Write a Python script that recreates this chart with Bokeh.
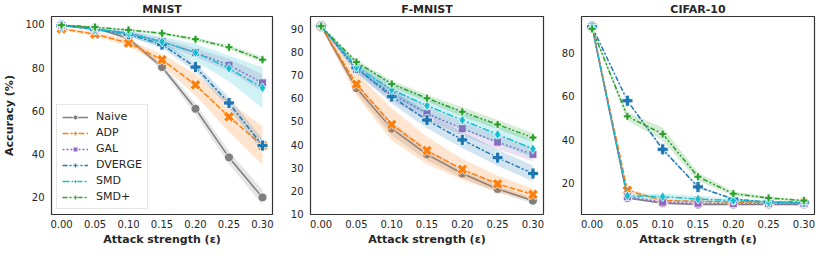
from bokeh.plotting import figure
from bokeh.layouts import row
from bokeh.models import Range1d, FixedTicker, Legend, LegendItem, Title
from bokeh.embed import file_html
from bokeh.resources import INLINE

eps = [0.00, 0.05, 0.10, 0.15, 0.20, 0.25, 0.30]
x_ticks = [0.00, 0.05, 0.10, 0.15, 0.20, 0.25, 0.30]
x_tick_labels = ["0.00", "0.05", "0.10", "0.15", "0.20", "0.25", "0.30"]
methods = ["Naive", "ADP", "GAL", "DVERGE", "SMD", "SMD+"]
titles = ["MNIST", "F-MNIST", "CIFAR-10"]

# MNIST
mnist_naive = [99.6, 98.5, 93.5, 80.3, 61.0, 38.5, 20.0]
mnist_naive_err = [0.3, 0.5, 1.0, 1.5, 2.5, 3.0, 3.5]
mnist_adp = [98.0, 95.6, 91.4, 83.7, 72.1, 57.3, 44.0]
mnist_adp_err = [0.5, 1.0, 1.5, 2.5, 5.0, 7.0, 9.0]
mnist_gal = [99.5, 98.0, 96.0, 92.0, 87.0, 81.2, 73.0]
mnist_gal_err = [0.2, 0.5, 1.0, 1.5, 2.0, 3.0, 4.0]
mnist_dverge = [99.5, 97.8, 95.5, 90.7, 80.3, 63.7, 44.0]
mnist_dverge_err = [0.2, 0.5, 1.0, 1.5, 2.0, 2.5, 3.0]
mnist_smd = [99.5, 97.8, 96.0, 92.0, 87.0, 79.7, 70.7]
mnist_smd_err = [0.3, 0.6, 1.5, 2.5, 4.0, 6.0, 9.5]
mnist_smdp = [99.7, 98.8, 97.5, 95.9, 93.2, 89.5, 83.7]
mnist_smdp_err = [0.2, 0.3, 0.4, 0.6, 0.8, 1.0, 1.3]

# F-MNIST
fmnist_naive = [91.4, 64.5, 46.9, 35.7, 27.4, 20.7, 15.6]
fmnist_naive_err = [0.3, 2.0, 3.0, 2.5, 2.0, 1.5, 1.2]
fmnist_adp = [91.4, 66.2, 48.7, 37.4, 29.2, 22.9, 18.3]
fmnist_adp_err = [0.5, 5.0, 7.0, 6.0, 4.5, 3.5, 2.5]
fmnist_gal = [91.4, 72.6, 62.0, 53.5, 46.9, 41.0, 35.7]
fmnist_gal_err = [0.3, 2.0, 3.0, 3.0, 3.0, 3.0, 3.0]
fmnist_dverge = [91.4, 73.3, 60.8, 50.6, 42.0, 34.3, 27.4]
fmnist_dverge_err = [0.3, 2.0, 3.0, 3.5, 3.5, 3.5, 3.5]
fmnist_smd = [91.4, 73.6, 63.8, 56.9, 50.6, 44.4, 38.1]
fmnist_smd_err = [0.3, 2.0, 3.0, 3.5, 4.0, 4.0, 4.0]
fmnist_smdp = [91.4, 75.8, 66.3, 60.1, 54.2, 48.7, 43.0]
fmnist_smdp_err = [0.3, 1.0, 1.5, 1.5, 2.0, 2.0, 2.0]

# CIFAR-10
cifar_naive = [92.0, 13.1, 10.7, 10.1, 10.1, 10.1, 10.1]
cifar_naive_err = [0.3, 0.5, 0.3, 0.3, 0.3, 0.3, 0.3]
cifar_adp = [92.0, 16.6, 11.9, 11.6, 11.2, 11.2, 11.0]
cifar_adp_err = [0.3, 1.0, 0.5, 0.4, 0.3, 0.3, 0.3]
cifar_gal = [92.0, 13.7, 11.2, 10.7, 10.5, 10.5, 10.5]
cifar_gal_err = [0.3, 0.7, 0.5, 0.4, 0.3, 0.3, 0.3]
cifar_dverge = [92.0, 57.9, 35.5, 18.2, 12.6, 11.2, 11.2]
cifar_dverge_err = [0.3, 0.5, 0.7, 0.5, 0.3, 0.3, 0.3]
cifar_smd = [92.0, 14.1, 13.7, 12.6, 11.9, 11.2, 10.7]
cifar_smd_err = [0.3, 1.0, 1.5, 1.5, 1.0, 0.7, 0.5]
cifar_smdp = [91.0, 50.7, 42.6, 22.9, 15.1, 13.1, 11.9]
cifar_smdp_err = [0.5, 2.0, 3.0, 2.0, 1.0, 0.7, 0.5]

data = [
    [(mnist_naive, mnist_naive_err), (mnist_adp, mnist_adp_err), (mnist_gal, mnist_gal_err),
     (mnist_dverge, mnist_dverge_err), (mnist_smd, mnist_smd_err), (mnist_smdp, mnist_smdp_err)],
    [(fmnist_naive, fmnist_naive_err), (fmnist_adp, fmnist_adp_err), (fmnist_gal, fmnist_gal_err),
     (fmnist_dverge, fmnist_dverge_err), (fmnist_smd, fmnist_smd_err), (fmnist_smdp, fmnist_smdp_err)],
    [(cifar_naive, cifar_naive_err), (cifar_adp, cifar_adp_err), (cifar_gal, cifar_gal_err),
     (cifar_dverge, cifar_dverge_err), (cifar_smd, cifar_smd_err), (cifar_smdp, cifar_smdp_err)],
]
y_ticks = [[20, 40, 60, 80, 100], [10, 20, 30, 40, 50, 60, 70, 80, 90], [20, 40, 60, 80]]
y_ranges = [(12.1, 103.7), (9.6, 95.6), (5.5, 96.7)]

colors = ["#7f7f7f", "#ff7f0e", "#9467bd", "#1f77b4", "#17becf", "#2ca02c"]
dashes = ["solid", "6 2", "2 2", "5 2 2 2", "7 2 2 2", "5 2 2 2 2 2"]
markers = ["circle", "plus", "square", "plus", "diamond", "plus"]
angles = [0, 0.7853981634, 0, 0, 0, 0]
sizes = [9, 11, 8, 11, 10, 8]

FONT = "DejaVu Sans"
TXT = "#262626"

widths = [276, 271, 269]
lefts = [39, 34, 34]
rights = [4, 4, 2]
H = 248

figs = []
for k in range(3):
    p = figure(width=widths[k], height=H, output_backend="svg", toolbar_location=None,
               x_range=Range1d(-0.015, 0.315), y_range=Range1d(*y_ranges[k]),
               min_border_left=lefts[k], min_border_right=rights[k],
               min_border_top=10, min_border_bottom=28)
    p.title = Title(text=titles[k], align="center", text_font=FONT, text_font_size="11px",
                    text_font_style="bold", text_color=TXT, standoff=1, offset=0)
    p.grid.visible = False
    p.outline_line_color = "#333333"
    p.outline_line_width = 1.2
    p.background_fill_color = "white"
    p.border_fill_color = "white"
    for ax in (p.xaxis[0], p.yaxis[0]):
        ax.axis_line_color = None
        ax.major_tick_line_color = None
        ax.minor_tick_line_color = None
        ax.major_tick_out = 0
        ax.major_tick_in = 0
        ax.minor_tick_out = 0
        ax.minor_tick_in = 0
        ax.major_label_text_font = FONT
        ax.major_label_text_font_size = "10px"
        ax.major_label_text_color = TXT
        ax.axis_label_text_font = FONT
        ax.axis_label_text_font_size = "11px"
        ax.axis_label_text_font_style = "bold"
        ax.axis_label_text_color = TXT
    p.xaxis.ticker = FixedTicker(ticks=x_ticks)
    p.xaxis.major_label_overrides = {t: l for t, l in zip(x_ticks, x_tick_labels)}
    p.xaxis.axis_label = "Attack strength (ε)"
    p.xaxis.major_label_standoff = 5
    p.xaxis.axis_label_standoff = 2
    p.yaxis.ticker = FixedTicker(ticks=y_ticks[k])
    p.yaxis.major_label_standoff = 7
    if k == 0:
        p.yaxis.axis_label = "Accuracy (%)"
        p.yaxis.axis_label_standoff = 6

    items = []
    for i, (vals, err) in enumerate(data[k]):
        lo = [v - e for v, e in zip(vals, err)]
        hi = [v + e for v, e in zip(vals, err)]
        p.varea(x=eps, y1=lo, y2=hi, fill_color=colors[i], fill_alpha=0.2)
        ln = p.line(eps, vals, line_color=colors[i], line_width=1.5, line_dash=dashes[i])
        sc = p.scatter(eps, vals, marker=markers[i], size=sizes[i], angle=angles[i],
                       fill_color=colors[i], line_color="white", line_width=0.8)
        items.append(LegendItem(label=methods[i], renderers=[ln, sc]))

    if k == 0:
        leg = Legend(items=items, location="bottom_left", margin=5, padding=5,
                     spacing=3, label_height=12, glyph_height=12, glyph_width=26,
                     label_standoff=8, label_text_font=FONT, label_text_font_size="11px",
                     label_text_color=TXT, border_line_color="#cccccc",
                     border_line_width=1, background_fill_alpha=0.8)
        p.add_layout(leg)
    figs.append(p)

layout = row(*figs, spacing=0)
open("out.html", "w").write(file_html(layout, INLINE))
